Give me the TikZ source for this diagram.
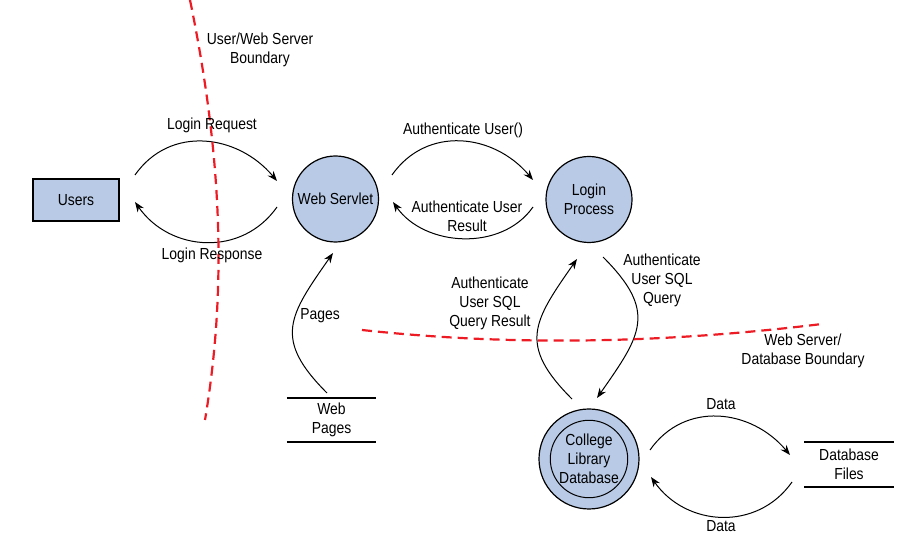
\documentclass[tikz,border=0pt]{standalone}
\usepackage{fontspec}
\setmainfont[FakeStretch=0.87]{Liberation Sans}
\usetikzlibrary{positioning,arrows.meta}
\definecolor{procblue}{RGB}{184,202,230}
\definecolor{bndred}{RGB}{237,28,36}
\tikzstyle{plainnode}=[draw=none,fill=none,align=center,inner sep=1pt]
\tikzstyle{entitynode}=[draw, rectangle, fill=procblue, line width=1.3pt, minimum height=42pt, minimum width=86pt]
\tikzstyle{processnode}=[draw, circle, fill=procblue, line width=1.2pt, minimum size=86pt, align=center, inner sep=0pt]
\tikzstyle{storenode}=[draw=none, minimum height=44pt, minimum width=89pt, align=center]
\tikzstyle{storeline}=[line width=2pt]
\tikzstyle{flow}=[line width=1pt, -{Stealth[length=10pt,width=7.5pt]}]
\tikzstyle{boundary}=[bndred, line width=2.2pt, dash pattern=on 10pt off 6pt]

\begin{document}
\begin{tikzpicture}[x=1pt,y=1pt,font=\fontsize{16}{19}\selectfont]
\useasboundingbox (0,0) rectangle (915,540);
% entities, processes and stores
\node[entitynode] (users) at (76,340) {Users};
\node[processnode] (servlet) at (335.5,341) {Web Servlet};
\node[processnode] (login) at (589,340.5) {Login\\Process};
\node[processnode, minimum size=100pt] (db) at (589,81) {};
\node[processnode, minimum size=76pt, fill=none, line width=1pt] (dbin) at (db.center) {College\\Library\\Database};
\node[storenode] (webpages) at (331.5,120) {Web\\Pages};
\node[storenode] (dbfiles) at (849,75.5) {Database\\Files};
\draw[storeline] (webpages.north west) -- (webpages.north east);
\draw[storeline] (webpages.south west) -- (webpages.south east);
\draw[storeline] (dbfiles.north west) -- (dbfiles.north east);
\draw[storeline] (dbfiles.south west) -- (dbfiles.south east);
% arrow ends
\coordinate (reqA) at (135,365);
\coordinate (reqB) at (277,359);
\coordinate (resA) at (277,333);
\coordinate (resB) at (135,338);
\coordinate (authA) at (392,365);
\coordinate (authB) at (533,360);
\coordinate (authresA) at (533,333);
\coordinate (authresB) at (393,338);
\coordinate (pagesA) at (327,147);
\coordinate (pagesB) at (333,287);
\coordinate (sqlresA) at (572,141);
\coordinate (sqlresB) at (577,281);
\coordinate (sqlA) at (603,283);
\coordinate (sqlB) at (597,142);
\coordinate (dataA) at (650,90);
\coordinate (dataB) at (790,85);
\coordinate (databackA) at (792,58);
\coordinate (databackB) at (651,63);
% data flows
\draw[flow] (reqA) to[out=55,in=130,looseness=1.1] (reqB);
\draw[flow] (resA) to[out=-125,in=-55,looseness=1.1] (resB);
\draw[flow] (authA) to[out=55,in=130,looseness=1.1] (authB);
\draw[flow] (authresA) to[out=-125,in=-55] (authresB);
\draw[flow] (pagesA) to[out=135,in=235,looseness=1.4] (pagesB);
\draw[flow] (sqlresA) to[out=135,in=235,looseness=1.4] (sqlresB);
\draw[flow] (sqlA) to[out=-45,in=55,looseness=1.4] (sqlB);
\draw[flow] (dataA) to[out=55,in=130,looseness=1.1] (dataB);
\draw[flow] (databackA) to[out=-125,in=-55,looseness=1.1] (databackB);
% boundaries
\draw[boundary] (190,540) .. controls (225,370) and (225,240) .. (205,120);
\draw[boundary] (362,210) .. controls (500,195) and (650,195) .. (822,216);
% labels
\node[plainnode] (reqlabel) at (212,415) {Login Request};
\node[plainnode] (reslabel) at (212,285) {Login Response};
\node[plainnode] (authlabel) at (463,410) {Authenticate User()};
\node[plainnode] (authreslabel) at (467,324) {Authenticate User\\Result};
\node[plainnode] (pageslabel) at (320,224) {Pages};
\node[plainnode] (sqlreslabel) at (490,237) {Authenticate\\User SQL\\Query Result};
\node[plainnode] (sqllabel) at (662,260) {Authenticate\\User SQL\\Query};
\node[plainnode] (datalabel) at (721,136) {Data};
\node[plainnode] (databacklabel) at (721,14) {Data};
\node[plainnode] (bnd1label) at (260,490) {User/Web Server\\Boundary};
\node[plainnode] (bnd2label) at (803,189) {Web Server/\\Database Boundary};
\end{tikzpicture}
\end{document}
